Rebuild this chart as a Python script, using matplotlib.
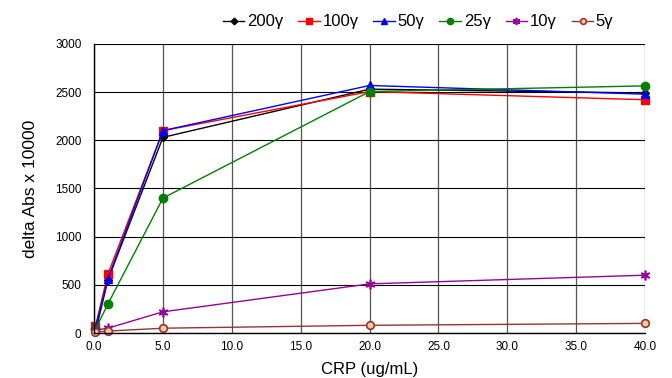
import matplotlib
matplotlib.use("Agg")
import matplotlib.pyplot as plt

plt.rcParams['font.family'] = ['Liberation Sans', 'DejaVu Sans']

x = [0.1, 1, 5, 20, 40]
series_names = ["200γ", "100γ", "50γ", "25γ", "10γ", "5γ"]
v200 = [10, 550, 2030, 2530, 2490]
v100 = [70, 610, 2100, 2505, 2420]
v50 = [50, 560, 2100, 2568, 2478]
v25 = [40, 300, 1400, 2505, 2564]
v10 = [30, 50, 220, 510, 600]
v5 = [10, 20, 50, 80, 100]
x_ticks = [0, 5, 10, 15, 20, 25, 30, 35, 40]
y_ticks = [0, 500, 1000, 1500, 2000, 2500, 3000]

styles = [
    dict(color='black', marker='D', ms=4.5, mfc='black', mec='black'),
    dict(color='red', marker='s', ms=5.5, mfc='red', mec='red'),
    dict(color='blue', marker='^', ms=6, mfc='blue', mec='blue'),
    dict(color='green', marker='o', ms=6, mfc='green', mec='green'),
    dict(color='#990099', marker=(6, 2, 0), ms=7, mfc='#990099', mec='#990099', mew=1.2),
    dict(color='#993333', marker='o', ms=5.5, mfc='#FFCC99', mec='#993333', mew=1.2),
]

fig = plt.figure(figsize=(6.72, 3.78), dpi=100)
ax = fig.add_axes([0.14, 0.119, 0.82, 0.765])

data = [v200, v100, v50, v25, v10, v5]
for name, vals, st in zip(series_names, data, styles):
    ax.plot(x, vals, lw=1, label=name, clip_on=False, **st)

ax.set_xlim(0, 40)
ax.set_ylim(0, 3000)
ax.set_xticks(x_ticks)
ax.set_xticklabels([f"{t:.1f}" for t in x_ticks])
ax.set_yticks(y_ticks)
ax.grid(True, axis='y', color='black', lw=0.8)
ax.grid(True, axis='x', color='#555555', lw=0.9)
ax.set_axisbelow(True)
for s in ['top', 'right']:
    ax.spines[s].set_visible(False)
for s in ['left', 'bottom']:
    ax.spines[s].set_color('black')
    ax.spines[s].set_linewidth(1)
ax.tick_params(axis='both', length=0, labelsize=8.5)
ax.tick_params(axis='x', pad=6)
ax.tick_params(axis='y', pad=9)
ax.set_xlabel("CRP (ug/mL)", fontsize=12, labelpad=6)
ax.set_ylabel("delta Abs x 10000", fontsize=12.5, labelpad=12)

leg = ax.legend(loc='center', bbox_to_anchor=(0.588, 1.076), ncol=6, frameon=False,
                fontsize=12, handlelength=1.3, handletextpad=0.15, columnspacing=0.9,
                markerscale=0.75, borderaxespad=0)

fig.savefig("out.png", dpi=100)
